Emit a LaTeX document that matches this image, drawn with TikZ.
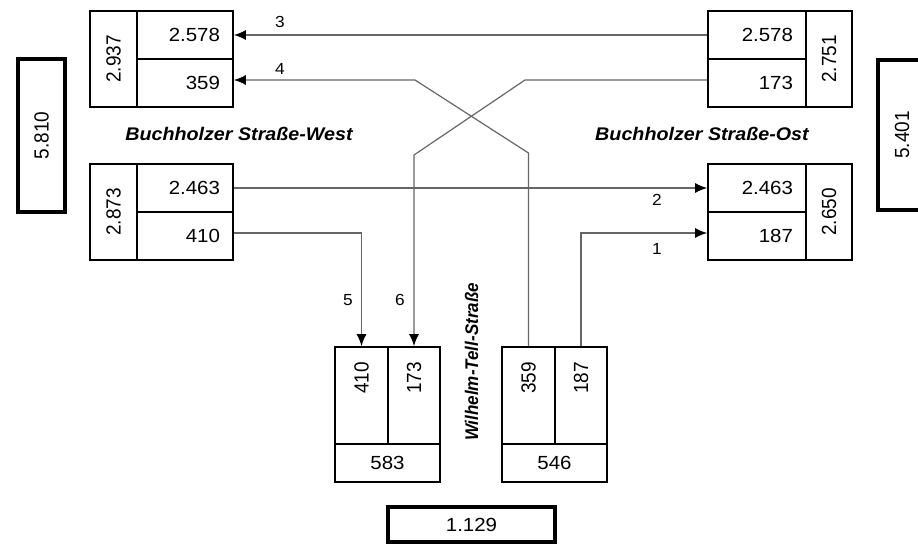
\documentclass[tikz,border=0pt]{standalone}
\usepackage{fontspec}
\setmainfont{Liberation Sans}
\usetikzlibrary{arrows.meta}
\newcommand{\hs}[1]{\scalebox{1.077}[1]{#1}}
\newcommand{\vs}[1]{\scalebox{1}[1.077]{#1}}
\tikzset{
  cell/.style={draw=black, line width=1.8pt, inner sep=0pt, font=\fontsize{19}{19}\selectfont},
  rcell/.style={cell, minimum width=#1, text width=#1-26pt, inner xsep=13pt, align=right},
  rotcell/.style={cell, rotate=90, minimum width=#1, text width=#1-30pt, inner xsep=15pt, align=right},
  ccell/.style={cell, align=center},
  totbox/.style={draw=black, line width=3.6pt, inner sep=0pt, font=\fontsize{19}{19}\selectfont},
  flow/.style={draw=black!60, line width=1.2pt, -{Latex[length=12pt,width=10pt,black]}},
  num/.style={font=\fontsize{16}{16}\selectfont, inner sep=0pt},
  street/.style={font=\fontsize{18.3}{18.3}\selectfont\bfseries\itshape, inner sep=0pt},
  vstreet/.style={font=\fontsize{17}{17}\selectfont\bfseries\itshape, inner sep=0pt}
}
\begin{document}
\begin{tikzpicture}[x=1pt,y=-1pt]
\useasboundingbox (0,0) rectangle (918,545);
% West top
\node[ccell, rotate=90, minimum width=96pt, minimum height=47pt] (WTa) at (113.5,59) {\vs{2.937}};
\node[rcell=96pt, minimum height=48pt] (WT3) at (185,35) {\hs{2.578}};
\node[rcell=96pt, minimum height=48pt] (WT4) at (185,83) {\hs{359}};
% West bottom
\node[ccell, rotate=90, minimum width=96pt, minimum height=47pt] (WBa) at (113.5,212) {\vs{2.873}};
\node[rcell=96pt, minimum height=48pt] (WB2) at (185,188) {\hs{2.463}};
\node[rcell=96pt, minimum height=48pt] (WB5) at (185,236) {\hs{410}};
% Ost top
\node[rcell=98pt, minimum height=48pt] (OT3) at (757,35) {\hs{2.578}};
\node[rcell=98pt, minimum height=48pt] (OT6) at (757,83) {\hs{173}};
\node[ccell, rotate=90, minimum width=96pt, minimum height=46pt] (OTa) at (829,59) {\vs{2.751}};
% Ost bottom
\node[rcell=98pt, minimum height=48pt] (OB2) at (757,188) {\hs{2.463}};
\node[rcell=98pt, minimum height=48pt] (OB1) at (757,236) {\hs{187}};
\node[ccell, rotate=90, minimum width=96pt, minimum height=46pt] (OBa) at (829,212) {\vs{2.650}};
% Wilhelm-Tell left
\node[rotcell=97pt, minimum height=53pt] (TL5) at (361.5,395.5) {\vs{410}};
\node[rotcell=97pt, minimum height=52pt] (TL6) at (414,395.5) {\vs{173}};
\node[ccell, minimum width=105pt, minimum height=38pt] (TLa) at (387.5,463) {\hs{583}};
% Wilhelm-Tell right
\node[rotcell=97pt, minimum height=53pt] (TR4) at (528.5,395.5) {\vs{359}};
\node[rotcell=97pt, minimum height=52pt] (TR1) at (581,395.5) {\vs{187}};
\node[ccell, minimum width=105pt, minimum height=38pt] (TRa) at (554.5,463) {\hs{546}};
% totals
\node[totbox, rotate=90, minimum width=153pt, minimum height=47pt] (totW) at (41.5,135.5) {\vs{5.810}};
\node[totbox, rotate=90, minimum width=150pt, minimum height=48pt] (totO) at (902,135) {\vs{5.401}};
\node[totbox, minimum width=167pt, minimum height=35pt] (totT) at (471.5,524.5) {\hs{1.129}};
% street names
\node[street, anchor=base] (sW) at (239,141) {\hs{Buchholzer Straße-West}};
\node[street, anchor=base] (sO) at (702,141) {\hs{Buchholzer Straße-Ost}};
\node[vstreet, anchor=base, rotate=90] (sT) at (478,362) {\vs{Wilhelm-Tell-Straße}};
% bend coordinates
\coordinate (b4a) at (528.5,153);
\coordinate (b4b) at (415,80);
\coordinate (b6a) at (525,80);
\coordinate (b6b) at (414,155);
\coordinate (b1) at (581,233);
\coordinate (b5) at (361.5,233);
% connectors
\draw[flow] (OT3.west) -- (WT3.east);
\draw[flow] (TR4.east) -- (b4a) -- (b4b) -- (b4b -| WT4.east);
\draw[flow] (OT6.west |- b6a) -- (b6a) -- (b6b) -- (TL6.east);
\draw[flow] (WB2.east) -- (WB2.east -| OB2.west);
\draw[flow] (TR1.east) -- (b1) -- (b1 -| OB1.west);
\draw[flow] (WB5.east |- b5) -- (b5) -- (TL5.east);
% flow numbers
\node[num] (n3) at (280,22) {\hs{3}};
\node[num] (n4) at (280,69) {\hs{4}};
\node[num] (n2) at (657,200) {\hs{2}};
\node[num] (n1) at (657,249) {\hs{1}};
\node[num] (n5) at (348,300) {\hs{5}};
\node[num] (n6) at (400,300) {\hs{6}};
\end{tikzpicture}
\end{document}
